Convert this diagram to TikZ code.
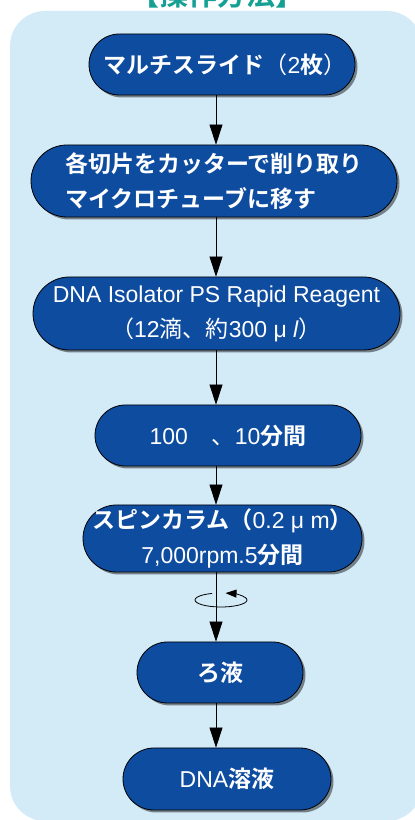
\documentclass[tikz,border=0pt]{standalone}
\usepackage{fontspec}
\setmainfont{Liberation Sans}
\newfontfamily\jpfont{Noto Sans CJK JP}
\newfontfamily\jpbfont{Noto Sans CJK JP Bold}
\usetikzlibrary{arrows.meta,shadows}
\definecolor{bgblue}{RGB}{211,234,247}
\definecolor{nodeblue}{RGB}{14,76,160}
\definecolor{titleteal}{RGB}{22,160,148}
\newcommand{\J}[1]{{\jpbfont #1}}
\newcommand{\R}[1]{{\jpfont #1}}
\begin{document}
\begin{tikzpicture}[x=1pt,y=1pt,
  box/.style={draw=black, line width=0.8pt, fill=nodeblue, text=white,
    drop shadow={shadow xshift=2.5pt,shadow yshift=-2.5pt,fill=black,opacity=0.45},
    inner sep=0pt, font=\fontsize{23pt}{35pt}\selectfont, align=center},
  arr/.style={line width=0.8pt, -{Triangle[length=20pt,width=13pt]}}]
\useasboundingbox (0,0) rectangle (415,820);
\clip (0,0) rectangle (415,820);
\fill[bgblue, rounded corners=35pt] (10,-1) rectangle (422,809);
\node[text=titleteal, font=\jpbfont\fontsize{29pt}{29pt}\selectfont, anchor=base] (title) at (217,814) {【操作方法】};
\coordinate (ax) at (216,0);
\node[box, minimum width=266pt, minimum height=61pt, rounded corners=30.5pt] (n1) at (222,755.5)
  {\hspace{6pt}\J{マルチスライド}\R{（}2\J{枚}\R{）}};
\node[box, minimum width=366pt, minimum height=72pt, rounded corners=36pt, align=left] (n2) at (214,639)
  {\J{各切片をカッターで削り取り}\\\J{マイクロチューブに移す}};
\node[box, minimum width=367pt, minimum height=73pt, rounded corners=36.5pt] (n3) at (216.5,506.5)
  {DNA Isolator PS Rapid Reagent\\\R{（}12\R{滴、約}300 μ \textit{l}\R{）}};
\node[box, minimum width=266pt, minimum height=61pt, rounded corners=30.5pt] (n4) at (228,384.5)
  {100\hspace{24pt}\R{、}10\J{分間}};
\node[box, minimum width=279pt, minimum height=67pt, rounded corners=33.5pt] (n5) at (222.5,281.5)
  {\J{スピンカラム（}0.2 μ m\J{）}\\7,000rpm.5\J{分間}};
\node[box, minimum width=166pt, minimum height=61pt, rounded corners=30.5pt] (n6) at (220,147.5)
  {\J{ろ液}};
\node[box, minimum width=208pt, minimum height=62pt, rounded corners=31pt] (n7) at (227,41)
  {DNA\J{溶液}};
\draw[arr] (n1.south -| ax) -- (n2.north -| ax);
\draw[arr] (n2.south -| ax) -- (n3.north -| ax);
\draw[arr] (n3.south -| ax) -- (n4.north -| ax);
\draw[arr] (n4.south -| ax) -- (n5.north -| ax);
\draw[line width=0.8pt, -{Triangle[length=11pt,width=8pt]}] (221,220) ++(110:26pt and 7pt)
  arc[start angle=110, end angle=440, x radius=26pt, y radius=7pt];
\draw[arr] (n5.south -| ax) -- (n6.north -| ax);
\draw[arr] (n6.south -| ax) -- (n7.north -| ax);
\end{tikzpicture}
\end{document}
